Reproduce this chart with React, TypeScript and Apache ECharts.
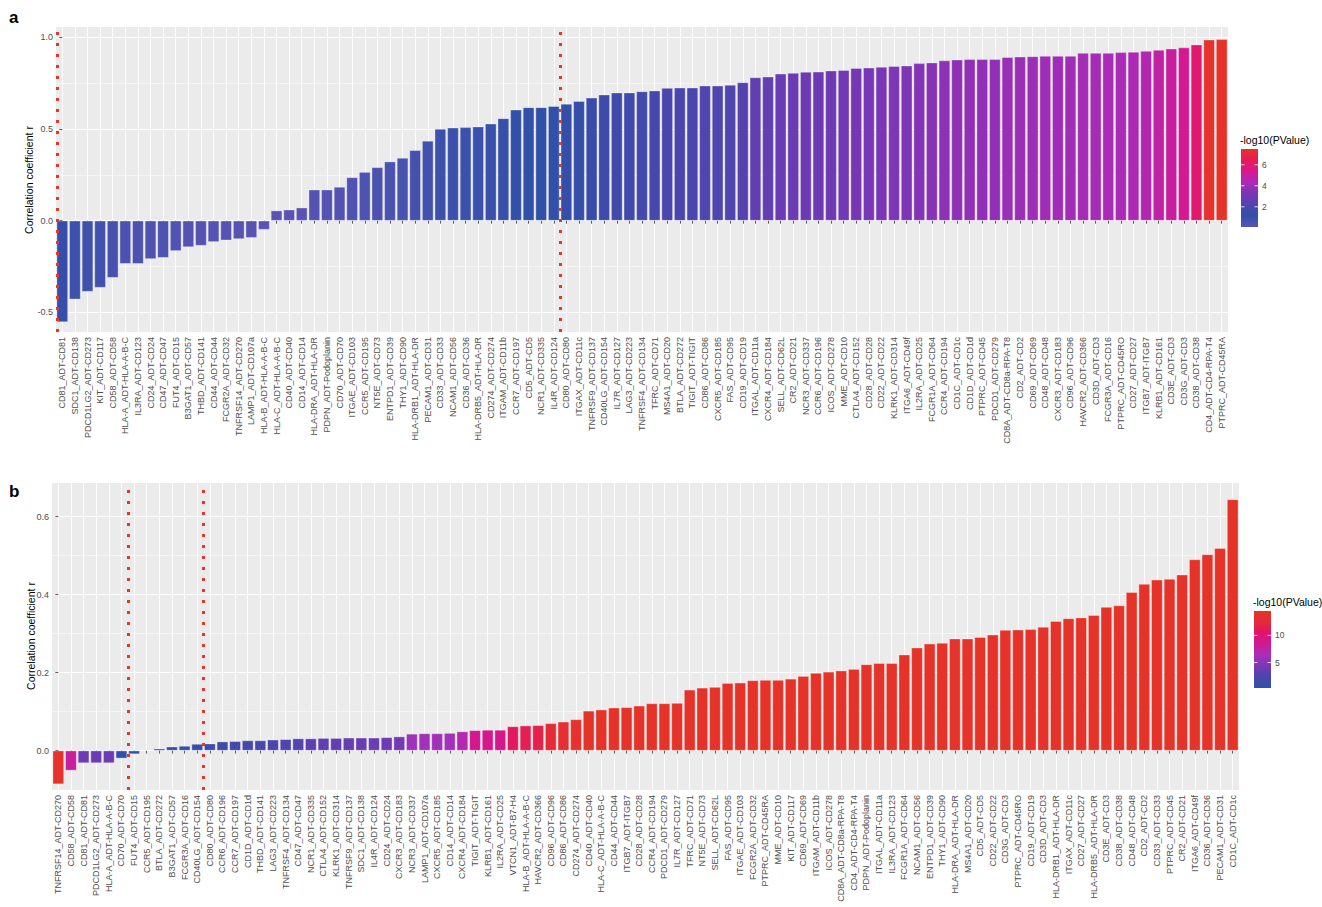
import { useEffect, useRef } from "react";
import * as echarts from "echarts";

// ---------------- Panel a data ----------------
const catsA = [
  "CD81_ADT-CD81", "SDC1_ADT-CD138", "PDCD1LG2_ADT-CD273", "KIT_ADT-CD117", "CD58_ADT-CD58",
  "HLA-A_ADT-HLA-A-B-C", "IL3RA_ADT-CD123", "CD24_ADT-CD24", "CD47_ADT-CD47", "FUT4_ADT-CD15",
  "B3GAT1_ADT-CD57", "THBD_ADT-CD141", "CD44_ADT-CD44", "FCGR2A_ADT-CD32", "TNFRSF14_ADT-CD270",
  "LAMP1_ADT-CD107a", "HLA-B_ADT-HLA-A-B-C", "HLA-C_ADT-HLA-A-B-C", "CD40_ADT-CD40", "CD14_ADT-CD14",
  "HLA-DRA_ADT-HLA-DR", "PDPN_ADT-Podoplanin", "CD70_ADT-CD70",
  "ITGAE_ADT-CD103", "CCR5_ADT-CD195", "NT5E_ADT-CD73", "ENTPD1_ADT-CD39", "THY1_ADT-CD90",
  "HLA-DRB1_ADT-HLA-DR", "PECAM1_ADT-CD31", "CD33_ADT-CD33", "NCAM1_ADT-CD56", "CD36_ADT-CD36",
  "HLA-DRB5_ADT-HLA-DR", "CD274_ADT-CD274", "ITGAM_ADT-CD11b", "CCR7_ADT-CD197", "CD5_ADT-CD5",
  "NCR1_ADT-CD335", "IL4R_ADT-CD124", "CD80_ADT-CD80", "ITGAX_ADT-CD11c", "TNFRSF9_ADT-CD137",
  "CD40LG_ADT-CD154", "IL7R_ADT-CD127", "LAG3_ADT-CD223",
  "TNFRSF4_ADT-CD134", "TFRC_ADT-CD71", "MS4A1_ADT-CD20", "BTLA_ADT-CD272", "TIGIT_ADT-TIGIT",
  "CD86_ADT-CD86", "CXCR5_ADT-CD185", "FAS_ADT-CD95", "CD19_ADT-CD19", "ITGAL_ADT-CD11a",
  "CXCR4_ADT-CD184", "SELL_ADT-CD62L", "CR2_ADT-CD21", "NCR3_ADT-CD337", "CCR6_ADT-CD196",
  "ICOS_ADT-CD278", "MME_ADT-CD10", "CTLA4_ADT-CD152", "CD28_ADT-CD28", "CD22_ADT-CD22",
  "KLRK1_ADT-CD314", "ITGA6_ADT-CD49f", "IL2RA_ADT-CD25",
  "FCGR1A_ADT-CD64", "CCR4_ADT-CD194", "CD1C_ADT-CD1c", "CD1D_ADT-CD1d", "PTPRC_ADT-CD45",
  "PDCD1_ADT-CD279", "CD8A_ADT-CD8a-RPA-T8", "CD2_ADT-CD2", "CD69_ADT-CD69", "CD48_ADT-CD48",
  "CXCR3_ADT-CD183", "CD96_ADT-CD96", "HAVCR2_ADT-CD366", "CD3D_ADT-CD3", "FCGR3A_ADT-CD16",
  "PTPRC_ADT-CD45RO", "CD27_ADT-CD27", "ITGB7_ADT-ITGB7", "KLRB1_ADT-CD161", "CD3E_ADT-CD3",
  "CD3G_ADT-CD3", "CD38_ADT-CD38", "CD4_ADT-CD4-RPA-T4", "PTPRC_ADT-CD45RA",
];

const rA = [
  -0.553, -0.429, -0.387, -0.365, -0.311, -0.235, -0.235, -0.209, -0.202, -0.165, -0.144, -0.136,
  -0.116, -0.107, -0.1, -0.093, -0.049,
  0.055, 0.06, 0.071, 0.169, 0.169, 0.184,
  0.236, 0.265, 0.291, 0.322, 0.342, 0.384, 0.435, 0.5, 0.507, 0.509, 0.513, 0.529, 0.558, 0.605,
  0.618, 0.618, 0.624,
  0.637, 0.652, 0.67, 0.687, 0.698, 0.698, 0.705, 0.709, 0.723, 0.725, 0.725, 0.736, 0.736, 0.74,
  0.754, 0.781, 0.785, 0.801, 0.805, 0.811, 0.812, 0.818, 0.821, 0.832, 0.834, 0.838, 0.842, 0.845,
  0.858, 0.862, 0.873, 0.878, 0.88, 0.88, 0.88, 0.891, 0.894, 0.896, 0.898, 0.898, 0.898, 0.914,
  0.914, 0.914, 0.918, 0.92, 0.925, 0.931, 0.938, 0.944, 0.96, 0.987, 0.989,
];

// -log10(PValue)
const pA = [
  1.3, 0.9, 0.75, 0.7, 0.6, 0.45, 0.45, 0.4, 0.4, 0.3, 0.25, 0.25, 0.2, 0.2, 0.18, 0.15, 0.08,
  0.08, 0.1, 0.1, 0.25, 0.25, 0.28,
  0.35, 0.4, 0.45, 0.5, 0.55, 0.62, 0.72, 0.85, 0.87, 0.87, 0.88, 0.92, 1.0, 1.1, 1.15, 1.15, 1.17,
  1.25, 1.3, 1.45, 1.6, 1.7, 1.7, 1.8, 1.85, 2.0, 2.0, 2.0, 2.15, 2.15, 2.2, 2.35, 2.6, 2.65, 2.8,
  2.85, 2.9, 2.9, 3.0, 3.05, 3.15, 3.2, 3.25, 3.3, 3.35, 3.5, 3.55, 3.65, 3.7, 3.75, 3.75, 3.75,
  3.9, 3.95, 4.0, 4.05, 4.05, 4.05, 4.2, 4.2, 4.25, 4.3, 4.35, 4.5, 4.8, 5.0, 5.3, 6.0, 7.4, 7.5,
];

const yTicksA = [-0.5, 0, 0.5, 1.0];
const yMinorA = [-0.25, 0.25, 0.75];
const vLinesA = [-0.42, 39.5];
const legendTicksA = [2, 4, 6];
const rampA = ["#5B53B4", "#3150A8", "#5044AE", "#7A36B6", "#AC2AB6", "#D81890", "#E41C55", "#E6332A"];

// ---------------- Panel b data ----------------
const catsB = [
  "TNFRSF14_ADT-CD270", "CD58_ADT-CD58", "CD81_ADT-CD81", "PDCD1LG2_ADT-CD273", "HLA-A_ADT-HLA-A-B-C",
  "CD70_ADT-CD70", "FUT4_ADT-CD15", "CCR5_ADT-CD195", "BTLA_ADT-CD272", "B3GAT1_ADT-CD57",
  "FCGR3A_ADT-CD16", "CD40LG_ADT-CD154", "CD80_ADT-CD80", "CCR6_ADT-CD196", "CCR7_ADT-CD197",
  "CD1D_ADT-CD1d", "THBD_ADT-CD141", "LAG3_ADT-CD223", "TNFRSF4_ADT-CD134", "CD47_ADT-CD47",
  "NCR1_ADT-CD335", "CTLA4_ADT-CD152", "KLRK1_ADT-CD314",
  "TNFRSF9_ADT-CD137", "SDC1_ADT-CD138", "IL4R_ADT-CD124", "CD24_ADT-CD24", "CXCR3_ADT-CD183",
  "NCR3_ADT-CD337", "LAMP1_ADT-CD107a", "CXCR5_ADT-CD185", "CD14_ADT-CD14", "CXCR4_ADT-CD184",
  "TIGIT_ADT-TIGIT", "KLRB1_ADT-CD161", "IL2RA_ADT-CD25", "VTCN1_ADT-B7-H4", "HLA-B_ADT-HLA-A-B-C",
  "HAVCR2_ADT-CD366", "CD96_ADT-CD96", "CD86_ADT-CD86", "CD274_ADT-CD274", "CD40_ADT-CD40",
  "HLA-C_ADT-HLA-A-B-C", "CD44_ADT-CD44", "ITGB7_ADT-ITGB7",
  "CD28_ADT-CD28", "CCR4_ADT-CD194", "PDCD1_ADT-CD279", "IL7R_ADT-CD127", "TFRC_ADT-CD71",
  "NT5E_ADT-CD73", "SELL_ADT-CD62L", "FAS_ADT-CD95", "ITGAE_ADT-CD103", "FCGR2A_ADT-CD32",
  "PTPRC_ADT-CD45RA", "MME_ADT-CD10", "KIT_ADT-CD117", "CD69_ADT-CD69", "ITGAM_ADT-CD11b",
  "ICOS_ADT-CD278", "CD8A_ADT-CD8a-RPA-T8", "CD4_ADT-CD4-RPA-T4", "PDPN_ADT-Podoplanin",
  "ITGAL_ADT-CD11a", "IL3RA_ADT-CD123", "FCGR1A_ADT-CD64", "NCAM1_ADT-CD56",
  "ENTPD1_ADT-CD39", "THY1_ADT-CD90", "HLA-DRA_ADT-HLA-DR", "MS4A1_ADT-CD20", "CD5_ADT-CD5",
  "CD22_ADT-CD22", "CD3G_ADT-CD3", "PTPRC_ADT-CD45RO", "CD19_ADT-CD19", "CD3D_ADT-CD3",
  "HLA-DRB1_ADT-HLA-DR", "ITGAX_ADT-CD11c", "CD27_ADT-CD27", "HLA-DRB5_ADT-HLA-DR", "CD3E_ADT-CD3",
  "CD38_ADT-CD38", "CD48_ADT-CD48", "CD2_ADT-CD2", "CD33_ADT-CD33", "PTPRC_ADT-CD45",
  "CR2_ADT-CD21", "ITGA6_ADT-CD49f", "CD36_ADT-CD36", "PECAM1_ADT-CD31", "CD1C_ADT-CD1c",
];

const rB = [
  -0.086, -0.051, -0.032, -0.032, -0.032, -0.02, -0.009, 0.001, 0.005, 0.01, 0.012, 0.017, 0.018,
  0.023, 0.024, 0.026, 0.026, 0.028, 0.029, 0.031, 0.031, 0.032, 0.032, 0.033, 0.033, 0.033, 0.034,
  0.036, 0.043, 0.044, 0.044, 0.045, 0.049, 0.052, 0.053, 0.053, 0.062, 0.064, 0.065, 0.07, 0.074,
  0.08, 0.102, 0.105, 0.11, 0.111, 0.115, 0.121,
  0.121, 0.122, 0.156, 0.161, 0.163, 0.173, 0.174, 0.18, 0.181, 0.181, 0.184, 0.191, 0.199, 0.202,
  0.205, 0.209, 0.221, 0.224, 0.224, 0.246, 0.264, 0.274, 0.276, 0.287, 0.287, 0.291, 0.297, 0.309,
  0.31, 0.311, 0.317, 0.332, 0.339, 0.341, 0.347, 0.368, 0.372, 0.406, 0.427, 0.438, 0.44, 0.451,
  0.49, 0.503, 0.519, 0.644,
];

const pB = [
  14.3, 8.0, 3.8, 3.8, 3.8, 0.6, 0.6, 0.3, 0.5, 0.8, 1.0, 1.1, 1.2, 1.5, 1.7, 1.9, 2.0, 2.3, 2.6,
  2.8, 3.0, 3.2, 3.3, 3.5, 3.6, 3.7, 3.9, 4.2, 6.0, 6.0, 6.1, 6.2, 7.0, 8.8, 8.9, 9.0, 11.0, 11.5,
  11.8, 13.0, 13.6, 14.0,
  14.5, 14.5, 14.5, 14.5, 14.5, 14.5, 14.5, 14.5, 14.5, 14.5, 14.5, 14.5, 14.5, 14.5, 14.5, 14.5,
  14.5, 14.5, 14.5, 14.5, 14.5, 14.5, 14.5, 14.5, 14.5, 14.5, 14.5, 14.5, 14.5, 14.5, 14.5, 14.5,
  14.5, 14.5, 14.5, 14.5, 14.5, 14.5, 14.5, 14.5, 14.5, 14.5, 14.5, 14.5, 14.5, 14.5, 14.5, 14.5,
  14.5, 14.5, 14.5, 14.5,
];

const yTicksB = [0, 0.2, 0.4, 0.6];
const yMinorB = [0.1, 0.3, 0.5];
const vLinesB = [5.5, 11.5];
const legendTicksB = [5, 10];
const rampB = ["#3050A8", "#4A46AC", "#7A38B6", "#A830BA", "#CF1A95", "#E2126A", "#E52A3A", "#E6332A"];

// ---------------- styling ----------------
const FONT = '"Liberation Sans", Arial, Helvetica, sans-serif';
const GREY = "#4D4D4D";
const PANEL_BG = "#EBEBEB";

function catAxis(gridIndex: number, cats: string[]) {
  return {
    type: "category",
    gridIndex,
    data: cats,
    boundaryGap: true,
    axisLine: { show: false },
    axisTick: { show: true, alignWithLabel: true, interval: 0, length: 3, lineStyle: { color: "#333", width: 0.8 } },
    axisLabel: { interval: 0, rotate: 90, fontSize: 9, color: GREY, margin: 5, fontFamily: FONT },
    splitLine: { show: true, interval: 0, alignWithLabel: true, lineStyle: { color: "#FFFFFF", width: 0.9 } },
  };
}

function hiddenX(gridIndex: number, n: number) {
  return { type: "value", gridIndex, min: -0.5, max: n - 0.5, show: false };
}

function majorY(gridIndex: number, min: number, max: number, ticks: number[]) {
  return {
    type: "value",
    gridIndex,
    min,
    max,
    position: "left",
    axisLine: { show: false },
    axisTick: { show: true, length: 3, customValues: ticks, lineStyle: { color: "#333", width: 0.8 } },
    axisLabel: {
      customValues: ticks,
      formatter: (v: number) => v.toFixed(1),
      fontSize: 9,
      color: GREY,
      margin: 3,
      fontFamily: FONT,
    },
    splitLine: { show: true, lineStyle: { color: "#FFFFFF", width: 1.1 } },
  };
}

function minorY(gridIndex: number, min: number, max: number, ticks: number[]) {
  return {
    type: "value",
    gridIndex,
    min,
    max,
    position: "left",
    axisLine: { show: false },
    axisTick: { show: false, customValues: ticks },
    axisLabel: { show: false },
    splitLine: { show: true, lineStyle: { color: "#FFFFFF", width: 0.5 } },
  };
}

function barSeries(xi: number, yi: number, cats: string[], r: number[], p: number[]) {
  return {
    type: "bar",
    xAxisIndex: xi,
    yAxisIndex: yi,
    data: cats.map((c, i) => [c, r[i], p[i]]),
    encode: { x: 0, y: 1 },
    barCategoryGap: "10%",
    silent: true,
    itemStyle: { borderColor: "rgba(255,255,255,0.55)", borderWidth: 0.6 },
  };
}

function vlineSeries(xi: number, yi: number, lines: number[]) {
  return {
    type: "line",
    xAxisIndex: xi,
    yAxisIndex: yi,
    data: [],
    silent: true,
    markLine: {
      silent: true,
      symbol: ["none", "none"],
      label: { show: false },
      lineStyle: { color: "#E8352B", type: [3, 8], width: 3, cap: "butt" },
      emphasis: { disabled: true },
      data: lines.map((v) => ({ xAxis: v })),
    },
  };
}

function legend(
  x: number,
  top: number,
  w: number,
  h: number,
  ramp: string[],
  vals: number[],
  ticks: number[]
) {
  const min = Math.min(...vals);
  const max = Math.max(...vals);
  const els: any[] = [];
  els.push({
    type: "text",
    x: x - 1,
    y: top - 9,
    style: {
      text: "-log10(PValue)",
      fontSize: 10.5,
      fill: "#000",
      fontFamily: FONT,
      align: "left",
      verticalAlign: "middle",
    },
  });
  els.push({
    type: "rect",
    shape: { x, y: top, width: w, height: h },
    style: {
      fill: new echarts.graphic.LinearGradient(
        0,
        1,
        0,
        0,
        ramp.map((c, i) => ({ offset: i / (ramp.length - 1), color: c }))
      ),
    },
  });
  ticks.forEach((t) => {
    const y = top + h - ((t - min) / (max - min)) * h;
    els.push({
      type: "line",
      shape: { x1: x, y1: y, x2: x + 3.5, y2: y },
      style: { stroke: "#FFFFFF", lineWidth: 0.8 },
    });
    els.push({
      type: "line",
      shape: { x1: x + w - 3.5, y1: y, x2: x + w, y2: y },
      style: { stroke: "#FFFFFF", lineWidth: 0.8 },
    });
    els.push({
      type: "text",
      x: x + w + 4,
      y,
      style: {
        text: String(t),
        fontSize: 8.5,
        fill: GREY,
        fontFamily: FONT,
        align: "left",
        verticalAlign: "middle",
      },
    });
  });
  return els;
}

function buildOption() {
  const yA: [number, number] = [-0.607, 1.056];
  const yB: [number, number] = [-0.101, 0.686];
  return {
    animation: false,
    backgroundColor: "#FFFFFF",
    textStyle: { fontFamily: FONT },
    grid: [
      { left: 56, top: 27, width: 1172, height: 305, show: true, backgroundColor: PANEL_BG, borderWidth: 0 },
      { left: 52, top: 483, width: 1187, height: 307, show: true, backgroundColor: PANEL_BG, borderWidth: 0 },
    ],
    xAxis: [catAxis(0, catsA), hiddenX(0, catsA.length), catAxis(1, catsB), hiddenX(1, catsB.length)],
    yAxis: [
      majorY(0, yA[0], yA[1], yTicksA),
      minorY(0, yA[0], yA[1], yMinorA),
      majorY(1, yB[0], yB[1], yTicksB),
      minorY(1, yB[0], yB[1], yMinorB),
    ],
    visualMap: [
      {
        type: "continuous",
        show: false,
        seriesIndex: 0,
        dimension: 2,
        min: Math.min(...pA),
        max: Math.max(...pA),
        inRange: { color: rampA },
      },
      {
        type: "continuous",
        show: false,
        seriesIndex: 2,
        dimension: 2,
        min: Math.min(...pB),
        max: Math.max(...pB),
        inRange: { color: rampB },
      },
    ],
    series: [
      barSeries(0, 0, catsA, rA, pA),
      vlineSeries(1, 0, vLinesA),
      barSeries(2, 2, catsB, rB, pB),
      vlineSeries(3, 2, vLinesB),
    ],
    graphic: [
      {
        type: "text",
        x: 9,
        y: 17,
        style: { text: "a", fontSize: 17, fontWeight: "bold", fill: "#000", fontFamily: FONT, verticalAlign: "middle" },
      },
      {
        type: "text",
        x: 9,
        y: 491,
        style: { text: "b", fontSize: 17, fontWeight: "bold", fill: "#000", fontFamily: FONT, verticalAlign: "middle" },
      },
      {
        type: "text",
        x: 29,
        y: 180,
        rotation: Math.PI / 2,
        style: {
          text: "Correlation coefficient r",
          fontSize: 10.5,
          fill: "#000",
          fontFamily: FONT,
          align: "center",
          verticalAlign: "middle",
        },
      },
      {
        type: "text",
        x: 31,
        y: 636,
        rotation: Math.PI / 2,
        style: {
          text: "Correlation coefficient r",
          fontSize: 10.5,
          fill: "#000",
          fontFamily: FONT,
          align: "center",
          verticalAlign: "middle",
        },
      },
      ...legend(1241, 149, 17, 78, rampA, pA, legendTicksA),
      ...legend(1254, 611, 17, 77, rampB, pB, legendTicksB),
    ],
  };
}

export default function App() {
  const ref = useRef<HTMLDivElement>(null);
  useEffect(() => {
    if (!ref.current) return;
    const chart = echarts.init(ref.current, null, { renderer: "svg" });
    chart.setOption(buildOption() as any);
    return () => chart.dispose();
  }, []);
  return (
    <div
      ref={ref}
      style={{ position: "absolute", left: 0, top: 0, width: 1322, height: 907, background: "#fff" }}
    />
  );
}
